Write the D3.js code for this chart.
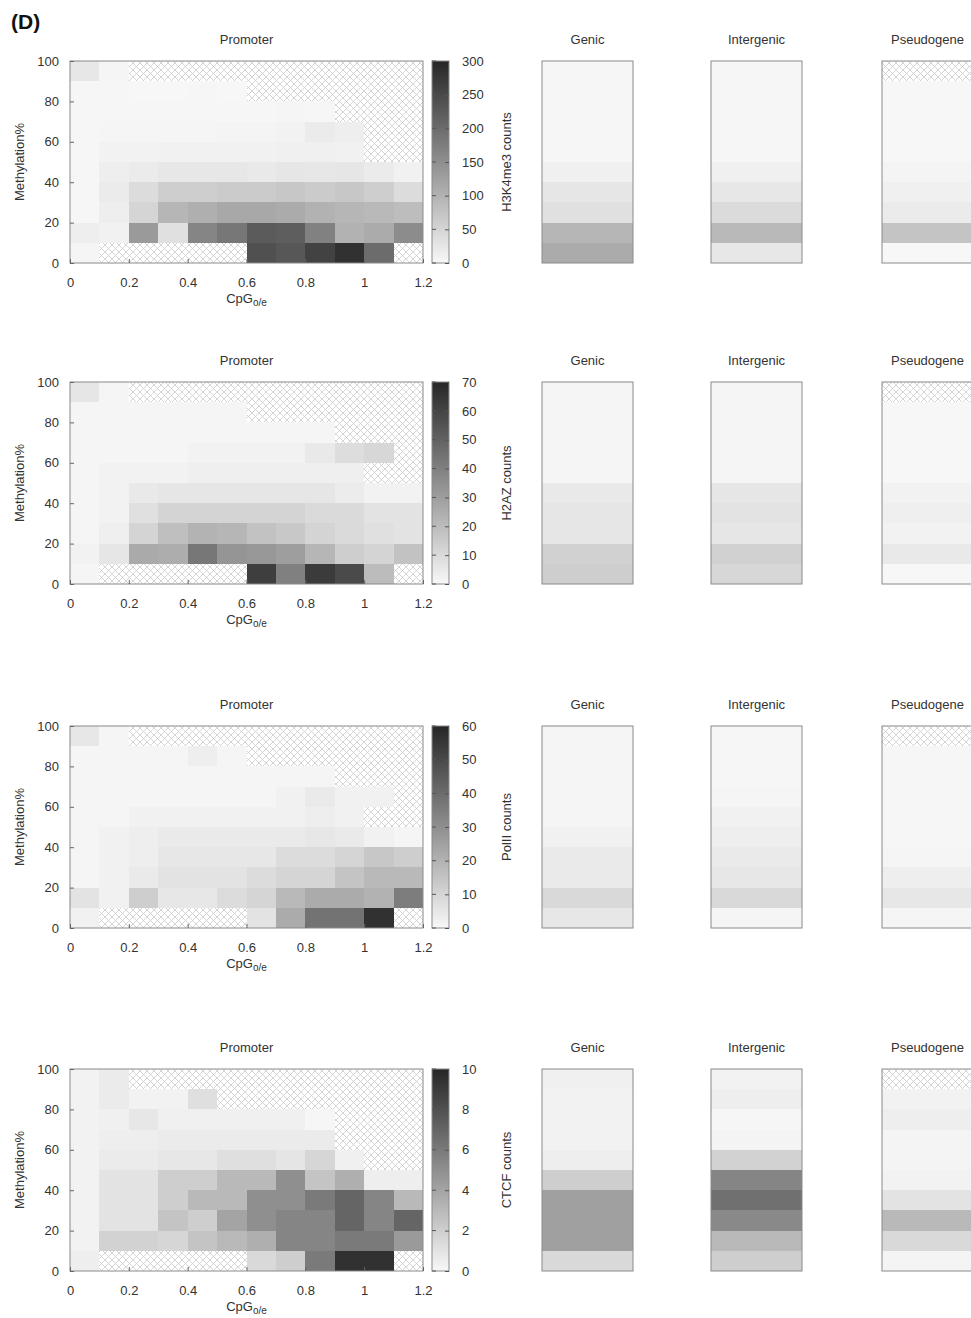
<!DOCTYPE html>
<html>
<head>
<meta charset="utf-8">
<script src="https://cdn.jsdelivr.net/npm/d3@7"></script>
<style>
body { margin: 0; background: #fff; }
text { font-family: "Liberation Sans", Arial, sans-serif; fill: #333; }
</style>
</head>
<body>
<svg id="fig" width="971" height="1318"></svg>
<script>
var N = null; // no data -> hatched cell

// CpG o/e bins (left edges) and methylation bins (lower edges, listed top row first)
var cpgBins = [0, 0.1, 0.2, 0.3, 0.4, 0.5, 0.6, 0.7, 0.8, 0.9, 1.0, 1.1];
var methBins = [90, 80, 70, 60, 50, 40, 30, 20, 10, 0];
var cpgTicks = [0, 0.2, 0.4, 0.6, 0.8, 1, 1.2];
var methTicks = [0, 20, 40, 60, 80, 100];
var regionNames = ['Genic', 'Intergenic', 'Pseudogene'];

// H3K4me3
var h3k4me3Promoter = [
    [25, 5, N, N, N, N, N, N, N, N, N, N],
    [3, 3, 2, 2, 3, 2, N, N, N, N, N, N],
    [3, 3, 3, 3, 3, 3, 3, 4, 3, N, N, N],
    [3, 4, 4, 5, 5, 6, 6, 8, 18, 15, N, N],
    [3, 8, 8, 10, 10, 10, 10, 12, 12, 10, N, N],
    [3, 14, 18, 24, 24, 24, 22, 26, 24, 26, 18, 10],
    [3, 18, 40, 60, 60, 65, 65, 70, 65, 70, 60, 40],
    [3, 15, 50, 95, 105, 115, 115, 110, 100, 95, 90, 85],
    [15, 10, 135, 35, 165, 185, 225, 220, 170, 100, 110, 155],
    [5, N, N, N, N, N, 240, 230, 260, 285, 200, N]
];
var h3k4me3Genic = [3, 3, 3, 3, 3, 12, 26, 34, 95, 110];
var h3k4me3Intergenic = [3, 3, 3, 3, 3, 12, 24, 42, 90, 25];
var h3k4me3Pseudogene = [N, 2, 2, 2, 2, 6, 12, 18, 75, 1];

// H2AZ
var h2azPromoter = [
    [6, 1, N, N, N, N, N, N, N, N, N, N],
    [1, 1, 1, 1, 1, 1, N, N, N, N, N, N],
    [1, 1, 1, 1, 1, 1, 1, 1, 1, N, N, N],
    [1, 1, 1, 1, 2, 2, 2, 2, 5, 9, 11, N],
    [1, 2, 2, 2, 3, 3, 3, 3, 3, 3, N, N],
    [1, 2, 5, 6, 6, 6, 6, 6, 6, 4, 2, 2],
    [1, 2, 8, 12, 12, 12, 12, 12, 10, 10, 7, 7],
    [1, 3, 12, 19, 23, 22, 18, 16, 12, 10, 8, 7],
    [2, 6, 26, 25, 43, 33, 32, 30, 22, 14, 12, 18],
    [1, N, N, N, N, N, 62, 40, 63, 58, 20, N]
];
var h2azGenic = [1, 1, 1, 1, 1, 5, 6, 6, 13, 14];
var h2azIntergenic = [1, 1, 1, 1, 1, 6, 7, 6, 13, 11];
var h2azPseudogene = [N, 0.5, 0.5, 0.5, 0.5, 2, 3, 2, 5, 0.5];

// PolII
var polIIPromoter = [
    [5, 1, N, N, N, N, N, N, N, N, N, N],
    [1, 1, 1, 1, 3, 1, N, N, N, N, N, N],
    [1, 1, 1, 1, 1, 1, 1, 1, 1, N, N, N],
    [1, 1, 1, 1, 1, 1, 1, 2, 4, 2, 2, N],
    [1, 1, 2, 2, 2, 2, 2, 2, 3, 2, N, N],
    [1, 2, 3, 4, 4, 4, 4, 4, 5, 4, 2, 1],
    [1, 2, 3, 5, 5, 5, 5, 8, 8, 10, 14, 12],
    [1, 2, 4, 6, 6, 6, 8, 10, 10, 15, 18, 18],
    [6, 2, 12, 5, 5, 8, 10, 18, 22, 22, 20, 35],
    [2, N, N, N, N, N, 6, 22, 38, 38, 57, N]
];
var polIIGenic = [1, 1, 1, 1, 1, 2, 4, 4, 9, 5];
var polIIIntergenic = [0.5, 0.5, 0.5, 1, 2, 3, 4, 5, 9, 1];
var polIIPseudogene = [N, 0.5, 0.5, 0.5, 0.5, 0.5, 1, 3, 5, 1];

// CTCF
var ctcfPromoter = [
    [0.3, 0.6, N, N, N, N, N, N, N, N, N, N],
    [0.3, 0.6, 0.3, 0.3, 1.2, N, N, N, N, N, N, N],
    [0.3, 0.4, 0.8, 0.4, 0.4, 0.4, 0.4, 0.4, 0.1, N, N, N],
    [0.3, 0.5, 0.5, 0.6, 0.6, 0.6, 0.6, 0.6, 0.6, N, N, N],
    [0.3, 0.6, 0.6, 0.8, 0.8, 1.2, 1.2, 0.9, 1.6, 0.4, N, N],
    [0.3, 1.0, 1.0, 2.0, 2.0, 3.0, 3.0, 5.0, 2.5, 3.5, 0.5, 0.5],
    [0.3, 1.0, 1.0, 2.0, 3.0, 3.0, 5.0, 5.0, 6.0, 7.0, 5.5, 3.0],
    [0.3, 1.0, 1.0, 2.5, 2.0, 4.0, 5.0, 5.5, 5.5, 7.0, 5.5, 7.0],
    [0.3, 1.8, 1.8, 1.6, 2.5, 3.0, 3.5, 5.5, 5.5, 6.0, 6.0, 4.5],
    [0.5, N, N, N, N, N, 1.5, 2.0, 6.0, 9.5, 9.5, N]
];
var ctcfGenic = [0.4, 0.3, 0.3, 0.3, 0.5, 2.0, 4.2, 4.2, 4.2, 1.5];
var ctcfIntergenic = [0.3, 0.5, 0.1, 0.2, 1.8, 5.5, 6.5, 5.3, 3.0, 2.0];
var ctcfPseudogene = [N, 0.3, 0.5, 0.2, 0.2, 0.3, 1.0, 3.0, 1.5, 0.2];

var colorbarLabels = ['H3K4me3 counts', 'H2AZ counts', 'PolII counts', 'CTCF counts'];
var colorbarMax = [300, 70, 60, 10];
var colorbarStep = [50, 10, 10, 2];

var rows = [
    {promoter: h3k4me3Promoter, regions: [h3k4me3Genic, h3k4me3Intergenic, h3k4me3Pseudogene]},
    {promoter: h2azPromoter, regions: [h2azGenic, h2azIntergenic, h2azPseudogene]},
    {promoter: polIIPromoter, regions: [polIIGenic, polIIIntergenic, polIIPseudogene]},
    {promoter: ctcfPromoter, regions: [ctcfGenic, ctcfIntergenic, ctcfPseudogene]}
];

// layout
var rowTops = [61, 382, 726, 1069];
var plotH = 202;
var plotLeft = 70, plotRight = 423;
var barX = 432, barW = 17;
var regionX = [542, 711, 882], regionW = 91;

var svg = d3.select('#fig');

var defs = svg.append('defs');
var hatch = defs.append('pattern')
    .attr('id', 'hatch')
    .attr('patternUnits', 'userSpaceOnUse')
    .attr('width', 7)
    .attr('height', 7);
hatch.append('rect').attr('width', 7).attr('height', 7).attr('fill', '#fff');
hatch.append('path')
    .attr('d', 'M0,0L7,7M7,0L0,7')
    .attr('stroke', '#cacaca')
    .attr('stroke-width', 0.8);

svg.append('text')
    .attr('x', 11)
    .attr('y', 29)
    .style('font-size', '21px')
    .style('font-weight', 'bold')
    .style('fill', '#111')
    .text('(D)');

rows.forEach(function (row, i) {
    var top = rowTops[i];
    var max = colorbarMax[i];

    var x = d3.scaleLinear().domain([0, 1.2]).range([plotLeft, plotRight]);
    var y = d3.scaleLinear().domain([0, 100]).range([top + plotH, top]);
    var color = d3.scaleLinear().domain([0, max]).range(['#f8f8f8', '#262626']).clamp(true);

    var g = svg.append('g');

    // promoter heatmap cells
    var cells = [];
    row.promoter.forEach(function (vals, r) {
        vals.forEach(function (v, c) {
            cells.push({cpg: cpgBins[c], meth: methBins[r], v: v});
        });
    });

    g.selectAll('rect.cell')
        .data(cells)
        .enter()
        .append('rect')
        .attr('class', 'cell')
        .attr('x', function (d) { return x(d.cpg); })
        .attr('y', function (d) { return y(d.meth + 10); })
        .attr('width', function (d) { return x(d.cpg + 0.1) - x(d.cpg); })
        .attr('height', function (d) { return y(d.meth) - y(d.meth + 10); })
        .attr('shape-rendering', 'crispEdges')
        .attr('fill', function (d) { return d.v === null ? 'url(#hatch)' : color(d.v); });

    g.append('rect')
        .attr('x', plotLeft)
        .attr('y', top)
        .attr('width', plotRight - plotLeft)
        .attr('height', plotH)
        .attr('fill', 'none')
        .attr('stroke', '#8a8a8a');

    var xAxis = g.append('g')
        .attr('transform', 'translate(0,' + (top + plotH) + ')')
        .call(d3.axisBottom(x).tickValues(cpgTicks).tickFormat(d3.format('~g'))
            .tickSizeInner(-4).tickSizeOuter(0).tickPadding(15));
    var yAxis = g.append('g')
        .attr('transform', 'translate(' + plotLeft + ',0)')
        .call(d3.axisLeft(y).tickValues(methTicks)
            .tickSizeInner(-4).tickSizeOuter(0).tickPadding(11));
    [xAxis, yAxis].forEach(function (a) {
        a.select('.domain').remove();
        a.selectAll('line').attr('stroke', '#666');
        a.selectAll('text')
            .style('font-size', '13px')
            .style('font-family', '"Liberation Sans", Arial, sans-serif')
            .attr('fill', '#333');
    });

    g.append('text')
        .attr('x', (plotLeft + plotRight) / 2)
        .attr('y', top - 17)
        .attr('text-anchor', 'middle')
        .style('font-size', '13px')
        .text('Promoter');

    g.append('text')
        .attr('transform', 'translate(24,' + (top + plotH / 2) + ') rotate(-90)')
        .attr('text-anchor', 'middle')
        .style('font-size', '13px')
        .text('Methylation%');

    var xl = g.append('text')
        .attr('x', (plotLeft + plotRight) / 2)
        .attr('y', top + plotH + 40)
        .attr('text-anchor', 'middle')
        .style('font-size', '13px');
    xl.append('tspan').text('CpG');
    xl.append('tspan')
        .attr('dy', 3)
        .style('font-size', '10px')
        .text('o/e');

    // colour bar
    var gradId = 'grad' + i;
    var grad = defs.append('linearGradient')
        .attr('id', gradId)
        .attr('x1', 0).attr('y1', 1)
        .attr('x2', 0).attr('y2', 0);
    grad.append('stop').attr('offset', '0%').attr('stop-color', color(0));
    grad.append('stop').attr('offset', '100%').attr('stop-color', color(max));

    g.append('rect')
        .attr('x', barX)
        .attr('y', top)
        .attr('width', barW)
        .attr('height', plotH)
        .attr('fill', 'url(#' + gradId + ')')
        .attr('stroke', '#8a8a8a');

    var cScale = d3.scaleLinear().domain([0, max]).range([top + plotH, top]);
    var cTicks = d3.range(0, max + colorbarStep[i] / 2, colorbarStep[i]);
    var cAxis = g.append('g')
        .attr('transform', 'translate(' + (barX + barW) + ',0)')
        .call(d3.axisRight(cScale).tickValues(cTicks)
            .tickSizeInner(-4).tickSizeOuter(0).tickPadding(13));
    cAxis.select('.domain').remove();
    cAxis.selectAll('line').attr('stroke', '#555');
    cAxis.selectAll('text')
        .style('font-size', '13px')
        .style('font-family', '"Liberation Sans", Arial, sans-serif')
        .attr('fill', '#333');
    g.selectAll('line.ltick')
        .data(cTicks)
        .enter()
        .append('line')
        .attr('class', 'ltick')
        .attr('x1', barX)
        .attr('x2', barX + 4)
        .attr('y1', function (d) { return cScale(d); })
        .attr('y2', function (d) { return cScale(d); })
        .attr('stroke', '#555');

    g.append('text')
        .attr('transform', 'translate(511,' + (top + plotH / 2) + ') rotate(-90)')
        .attr('text-anchor', 'middle')
        .style('font-size', '13px')
        .text(colorbarLabels[i]);

    // genic / intergenic / pseudogene columns
    row.regions.forEach(function (vals, k) {
        var x0 = regionX[k];
        var rg = g.append('g');
        rg.selectAll('rect')
            .data(vals.map(function (v, r) { return {meth: methBins[r], v: v}; }))
            .enter()
            .append('rect')
            .attr('x', x0)
            .attr('y', function (d) { return y(d.meth + 10); })
            .attr('width', regionW)
            .attr('height', function (d) { return y(d.meth) - y(d.meth + 10); })
            .attr('shape-rendering', 'crispEdges')
            .attr('fill', function (d) { return d.v === null ? 'url(#hatch)' : color(d.v); });
        rg.append('rect')
            .attr('x', x0)
            .attr('y', top)
            .attr('width', regionW)
            .attr('height', plotH)
            .attr('fill', 'none')
            .attr('stroke', '#8a8a8a');
        rg.append('text')
            .attr('x', x0 + regionW / 2)
            .attr('y', top - 17)
            .attr('text-anchor', 'middle')
            .style('font-size', '13px')
            .text(regionNames[k]);
    });
});
</script>
</body>
</html>
